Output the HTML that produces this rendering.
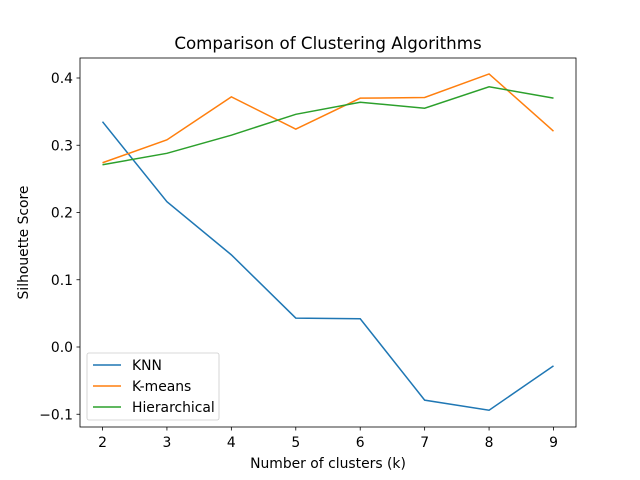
<!DOCTYPE html>
<html><head><meta charset="utf-8"><style>body{margin:0;background:#fff}svg{display:block;font-family:"DejaVu Sans","Liberation Sans",sans-serif}</style></head>
<body>
<svg id="c" width="640" height="480" viewBox="0 0 640 480">
<rect width="640" height="480" fill="#fff"/>
<text x="328" y="49" font-size="16.7" text-anchor="middle">Comparison of Clustering Algorithms</text>
<text x="328" y="468" font-size="13.9" text-anchor="middle">Number of clusters (k)</text>
<text transform="translate(28,242.5) rotate(-90)" font-size="13.9" text-anchor="middle">Silhouette Score</text>
<g id="axes"></g>
</svg>
<script>
const categories=[2,3,4,5,6,7,8,9];
const knn=[0.335,0.216,0.137,0.043,0.042,-0.079,-0.094,-0.028];
const kmeans=[0.274,0.308,0.372,0.324,0.370,0.371,0.406,0.321];
const hier=[0.271,0.288,0.315,0.346,0.364,0.355,0.387,0.370];
const yTicks=[-0.1,0.0,0.1,0.2,0.3,0.4];
const seriesNames=["KNN","K-means","Hierarchical"];
const colors=["#1f77b4","#ff7f0e","#2ca02c"];
const L=80,R=576,T=58,B=427;
const xs=v=>102.5+(v-2)*(451/7);
const ys=v=>347-v*672.5;
const ns="http://www.w3.org/2000/svg";
const g=document.getElementById('axes');
function mk(t,a){const e=document.createElementNS(ns,t);for(const k in a)e.setAttribute(k,a[k]);g.appendChild(e);return e;}
categories.forEach(c=>{
 const t=mk('line',{x1:xs(c),x2:xs(c),y1:B,y2:B+3.5,stroke:'#000','stroke-width':0.8});
 
 
 const l=mk('text',{x:xs(c),y:B+20,'font-size':13.9,'text-anchor':'middle'});l.textContent=c;
 
 
});
yTicks.forEach(v=>{
 const t=mk('line',{x1:L-3.5,x2:L,y1:ys(v),y2:ys(v),stroke:'#000','stroke-width':0.8});
 
 
 const l=mk('text',{x:L-7,y:ys(v)+5,'font-size':13.9,'text-anchor':'end'});l.textContent=(v<0?'\u2212':'')+Math.abs(v).toFixed(1);
 
 
});
[knn,kmeans,hier].forEach((s,i)=>{
 const p=mk('polyline',{points:s.map((v,j)=>xs(categories[j])+','+ys(v)).join(' '),fill:'none',stroke:colors[i],'stroke-width':1.5});
 
 
});
const f=mk('rect',{x:L,y:T,width:R-L,height:B-T,fill:'none',stroke:'#000','stroke-width':0.8});


const lb=mk('rect',{x:87,y:353,width:132,height:67,rx:2,fill:'#fff','fill-opacity':0.8,stroke:'#ccc','stroke-width':0.8});


seriesNames.forEach((n,i)=>{
 const y=365+i*21;
 const ln=mk('line',{x1:93,x2:121,y1:y,y2:y,stroke:colors[i],'stroke-width':1.5});
 
 
 const t=mk('text',{x:132,y:y+5,'font-size':13.9});t.textContent=n;
 
 
});
</script>
</body></html>
